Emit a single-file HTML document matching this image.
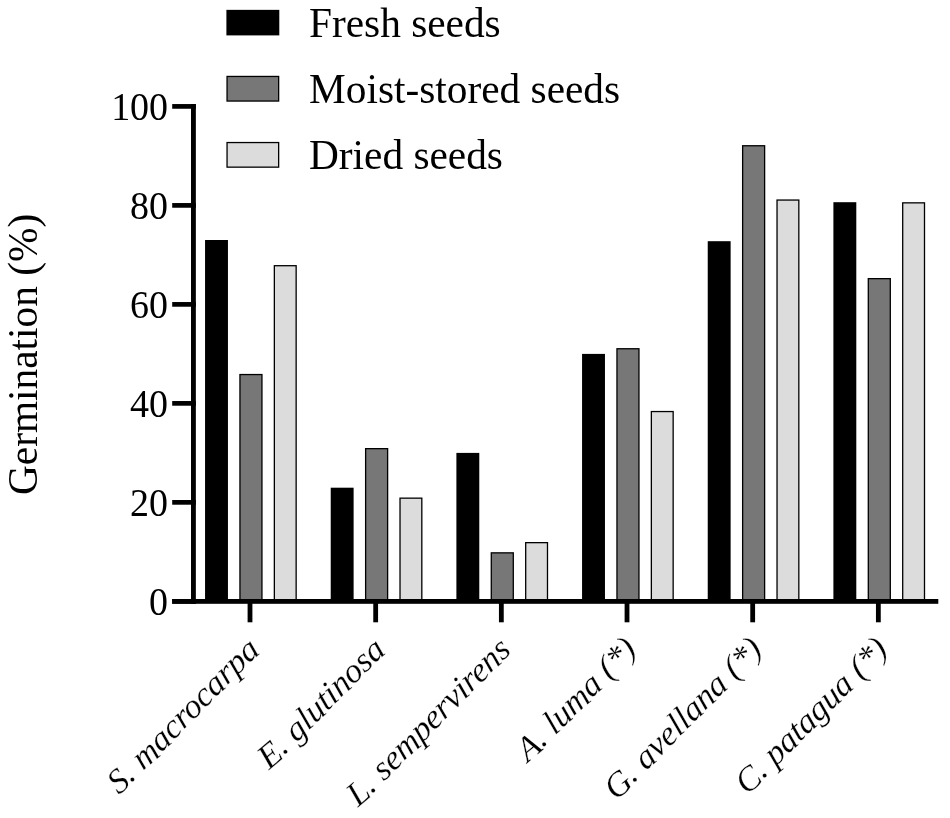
<!DOCTYPE html><html><head><meta charset="utf-8"><style>html,body{margin:0;padding:0;background:#fff;}svg{display:block;filter:grayscale(1);}text{font-family:"Liberation Serif",serif;fill:#000;}.xl text{stroke:#fff;stroke-width:0.2px;}</style></head><body>
<svg width="950" height="818" viewBox="0 0 950 818">
<rect x="0" y="0" width="950" height="818" fill="#fff"/>
<rect x="205.05" y="240.00" width="22.9" height="361.00" fill="#000"/>
<rect x="239.95" y="374.55" width="22.00" height="227.10" fill="#777" stroke="#000" stroke-width="1.3"/>
<rect x="274.35" y="265.70" width="21.80" height="335.95" fill="#dcdcdc" stroke="#000" stroke-width="1.3"/>
<rect x="330.72" y="487.70" width="22.9" height="113.30" fill="#000"/>
<rect x="365.62" y="448.65" width="22.00" height="153.00" fill="#777" stroke="#000" stroke-width="1.3"/>
<rect x="400.02" y="498.15" width="21.80" height="103.50" fill="#dcdcdc" stroke="#000" stroke-width="1.3"/>
<rect x="456.39" y="452.90" width="22.9" height="148.10" fill="#000"/>
<rect x="491.29" y="552.85" width="22.00" height="48.80" fill="#777" stroke="#000" stroke-width="1.3"/>
<rect x="525.69" y="542.65" width="21.80" height="59.00" fill="#dcdcdc" stroke="#000" stroke-width="1.3"/>
<rect x="582.06" y="353.90" width="22.9" height="247.10" fill="#000"/>
<rect x="616.96" y="348.75" width="22.00" height="252.90" fill="#777" stroke="#000" stroke-width="1.3"/>
<rect x="651.36" y="411.55" width="21.80" height="190.10" fill="#dcdcdc" stroke="#000" stroke-width="1.3"/>
<rect x="707.73" y="241.20" width="22.9" height="359.80" fill="#000"/>
<rect x="742.63" y="145.75" width="22.00" height="455.90" fill="#777" stroke="#000" stroke-width="1.3"/>
<rect x="777.03" y="200.05" width="21.80" height="401.60" fill="#dcdcdc" stroke="#000" stroke-width="1.3"/>
<rect x="833.40" y="202.20" width="22.9" height="398.80" fill="#000"/>
<rect x="868.30" y="278.65" width="22.00" height="323.00" fill="#777" stroke="#000" stroke-width="1.3"/>
<rect x="902.70" y="202.85" width="21.80" height="398.80" fill="#dcdcdc" stroke="#000" stroke-width="1.3"/>
<rect x="191.0" y="104.0" width="4.85" height="499.8" fill="#000"/>
<rect x="172.2" y="599.0" width="766.1" height="4.8" fill="#000"/>
<rect x="172.2" y="599.00" width="23.65" height="4.7" fill="#000"/>
<text transform="translate(168.1,614.70) scale(1,1.04)" font-size="38.0" text-anchor="end">0</text>
<rect x="172.2" y="500.01" width="23.65" height="4.7" fill="#000"/>
<text transform="translate(168.1,515.71) scale(1,1.04)" font-size="38.0" text-anchor="end">20</text>
<rect x="172.2" y="401.02" width="23.65" height="4.7" fill="#000"/>
<text transform="translate(168.1,416.72) scale(1,1.04)" font-size="38.0" text-anchor="end">40</text>
<rect x="172.2" y="302.03" width="23.65" height="4.7" fill="#000"/>
<text transform="translate(168.1,317.73) scale(1,1.04)" font-size="38.0" text-anchor="end">60</text>
<rect x="172.2" y="203.04" width="23.65" height="4.7" fill="#000"/>
<text transform="translate(168.1,218.74) scale(1,1.04)" font-size="38.0" text-anchor="end">80</text>
<rect x="172.2" y="104.05" width="23.65" height="4.7" fill="#000"/>
<text transform="translate(168.1,119.75) scale(1,1.04)" font-size="38.0" text-anchor="end">100</text>
<rect x="247.60" y="601" width="4.8" height="21.3" fill="#000"/>
<rect x="373.27" y="601" width="4.8" height="21.3" fill="#000"/>
<rect x="498.94" y="601" width="4.8" height="21.3" fill="#000"/>
<rect x="624.61" y="601" width="4.8" height="21.3" fill="#000"/>
<rect x="750.28" y="601" width="4.8" height="21.3" fill="#000"/>
<rect x="875.95" y="601" width="4.8" height="21.3" fill="#000"/>
<rect x="226.4" y="9.85" width="52.9" height="25.55" fill="#000"/>
<text x="309" y="36.6" font-size="41.33">Fresh seeds</text>
<rect x="227.05" y="76.45" width="51.6" height="24.599999999999998" fill="#777" stroke="#000" stroke-width="1.3"/>
<text x="309" y="102.8" font-size="41.33">Moist-stored seeds</text>
<rect x="227.05" y="142.55" width="51.6" height="24.599999999999998" fill="#dcdcdc" stroke="#000" stroke-width="1.3"/>
<text x="309" y="168.5" font-size="41.33">Dried seeds</text>
<text transform="translate(37.0,495) rotate(-90)" font-size="41.33">Germination (%)</text>
<g class="xl"><text transform="translate(118.72,795.27) rotate(-40.0)" font-size="34.5" font-style="italic">S</text>
<text transform="translate(130.82,782.97) rotate(-40.0)" font-size="34.5" font-style="italic">.</text>
<text transform="translate(142.92,770.68) rotate(-40.0)" font-size="34.5" font-style="italic">m</text>
<text transform="translate(160.39,752.93) rotate(-40.0)" font-size="34.5" font-style="italic">a</text>
<text transform="translate(172.49,740.63) rotate(-40.0)" font-size="34.5" font-style="italic">c</text>
<text transform="translate(183.23,729.72) rotate(-40.0)" font-size="34.5" font-style="italic">r</text>
<text transform="translate(191.75,721.06) rotate(-40.0)" font-size="34.5" font-style="italic">o</text>
<text transform="translate(203.85,708.77) rotate(-40.0)" font-size="34.5" font-style="italic">c</text>
<text transform="translate(214.59,697.85) rotate(-40.0)" font-size="34.5" font-style="italic">a</text>
<text transform="translate(226.69,685.56) rotate(-40.0)" font-size="34.5" font-style="italic">r</text>
<text transform="translate(236.11,675.98) rotate(-40.0)" font-size="34.5" font-style="italic">p</text>
<text transform="translate(248.21,663.69) rotate(-40.0)" font-size="34.5" font-style="italic">a</text></g>
<g class="xl"><text transform="translate(269.02,770.24) rotate(-40.0)" font-size="34.5" font-style="italic">E</text>
<text transform="translate(283.79,755.23) rotate(-40.0)" font-size="34.5" font-style="italic">.</text>
<text transform="translate(295.89,742.94) rotate(-40.0)" font-size="34.5" font-style="italic">g</text>
<text transform="translate(307.99,730.64) rotate(-40.0)" font-size="34.5" font-style="italic">l</text>
<text transform="translate(314.72,723.80) rotate(-40.0)" font-size="34.5" font-style="italic">u</text>
<text transform="translate(326.82,711.51) rotate(-40.0)" font-size="34.5" font-style="italic">t</text>
<text transform="translate(333.54,704.68) rotate(-40.0)" font-size="34.5" font-style="italic">i</text>
<text transform="translate(340.27,697.84) rotate(-40.0)" font-size="34.5" font-style="italic">n</text>
<text transform="translate(352.37,685.55) rotate(-40.0)" font-size="34.5" font-style="italic">o</text>
<text transform="translate(364.47,673.25) rotate(-40.0)" font-size="34.5" font-style="italic">s</text>
<text transform="translate(373.88,663.69) rotate(-40.0)" font-size="34.5" font-style="italic">a</text></g>
<g class="xl"><text transform="translate(357.96,807.56) rotate(-40.0)" font-size="34.5" font-style="italic">L</text>
<text transform="translate(371.41,793.90) rotate(-40.0)" font-size="34.5" font-style="italic">.</text>
<text transform="translate(383.51,781.60) rotate(-40.0)" font-size="34.5" font-style="italic">s</text>
<text transform="translate(392.94,772.03) rotate(-40.0)" font-size="34.5" font-style="italic">e</text>
<text transform="translate(403.68,761.11) rotate(-40.0)" font-size="34.5" font-style="italic">m</text>
<text transform="translate(421.15,743.36) rotate(-40.0)" font-size="34.5" font-style="italic">p</text>
<text transform="translate(433.24,731.06) rotate(-40.0)" font-size="34.5" font-style="italic">e</text>
<text transform="translate(443.99,720.15) rotate(-40.0)" font-size="34.5" font-style="italic">r</text>
<text transform="translate(453.41,710.57) rotate(-40.0)" font-size="34.5" font-style="italic">v</text>
<text transform="translate(464.15,699.66) rotate(-40.0)" font-size="34.5" font-style="italic">i</text>
<text transform="translate(470.87,692.83) rotate(-40.0)" font-size="34.5" font-style="italic">r</text>
<text transform="translate(479.38,684.18) rotate(-40.0)" font-size="34.5" font-style="italic">e</text>
<text transform="translate(490.12,673.26) rotate(-40.0)" font-size="34.5" font-style="italic">n</text>
<text transform="translate(502.22,660.97) rotate(-40.0)" font-size="34.5" font-style="italic">s</text></g>
<g class="xl"><text transform="translate(527.78,762.70) rotate(-40.0)" font-size="34.5" font-style="italic">A</text>
<text transform="translate(542.55,747.69) rotate(-40.0)" font-size="34.5" font-style="italic">.</text>
<text transform="translate(554.65,735.40) rotate(-40.0)" font-size="34.5" font-style="italic">l</text>
<text transform="translate(561.38,728.56) rotate(-40.0)" font-size="34.5" font-style="italic">u</text>
<text transform="translate(573.48,716.26) rotate(-40.0)" font-size="34.5" font-style="italic">m</text>
<text transform="translate(590.95,698.51) rotate(-40.0)" font-size="34.5" font-style="italic">a</text>
<text transform="translate(609.10,680.07) rotate(-40.0)" font-size="34.5" font-style="italic">(</text>
<text transform="translate(617.16,671.87) rotate(-40.0)" font-size="34.5" font-style="italic">*</text>
<text transform="translate(629.26,659.58) rotate(-40.0)" font-size="34.5" font-style="italic">)</text></g>
<g class="xl"><text transform="translate(615.83,800.94) rotate(-40.0)" font-size="34.5" font-style="italic">G</text>
<text transform="translate(633.29,783.19) rotate(-40.0)" font-size="34.5" font-style="italic">.</text>
<text transform="translate(645.39,770.89) rotate(-40.0)" font-size="34.5" font-style="italic">a</text>
<text transform="translate(657.49,758.59) rotate(-40.0)" font-size="34.5" font-style="italic">v</text>
<text transform="translate(668.23,747.68) rotate(-40.0)" font-size="34.5" font-style="italic">e</text>
<text transform="translate(678.97,736.77) rotate(-40.0)" font-size="34.5" font-style="italic">l</text>
<text transform="translate(685.70,729.93) rotate(-40.0)" font-size="34.5" font-style="italic">l</text>
<text transform="translate(692.42,723.10) rotate(-40.0)" font-size="34.5" font-style="italic">a</text>
<text transform="translate(704.52,710.81) rotate(-40.0)" font-size="34.5" font-style="italic">n</text>
<text transform="translate(716.62,698.51) rotate(-40.0)" font-size="34.5" font-style="italic">a</text>
<text transform="translate(734.77,680.07) rotate(-40.0)" font-size="34.5" font-style="italic">(</text>
<text transform="translate(742.82,671.88) rotate(-40.0)" font-size="34.5" font-style="italic">*</text>
<text transform="translate(754.92,659.59) rotate(-40.0)" font-size="34.5" font-style="italic">)</text></g>
<g class="xl"><text transform="translate(746.84,795.50) rotate(-40.0)" font-size="34.5" font-style="italic">C</text>
<text transform="translate(762.98,779.11) rotate(-40.0)" font-size="34.5" font-style="italic">.</text>
<text transform="translate(775.07,766.81) rotate(-40.0)" font-size="34.5" font-style="italic">p</text>
<text transform="translate(787.17,754.52) rotate(-40.0)" font-size="34.5" font-style="italic">a</text>
<text transform="translate(799.27,742.22) rotate(-40.0)" font-size="34.5" font-style="italic">t</text>
<text transform="translate(806.00,735.39) rotate(-40.0)" font-size="34.5" font-style="italic">a</text>
<text transform="translate(818.10,723.09) rotate(-40.0)" font-size="34.5" font-style="italic">g</text>
<text transform="translate(830.20,710.80) rotate(-40.0)" font-size="34.5" font-style="italic">u</text>
<text transform="translate(842.30,698.50) rotate(-40.0)" font-size="34.5" font-style="italic">a</text>
<text transform="translate(860.45,680.06) rotate(-40.0)" font-size="34.5" font-style="italic">(</text>
<text transform="translate(868.50,671.87) rotate(-40.0)" font-size="34.5" font-style="italic">*</text>
<text transform="translate(880.60,659.58) rotate(-40.0)" font-size="34.5" font-style="italic">)</text></g>
</svg></body></html>
